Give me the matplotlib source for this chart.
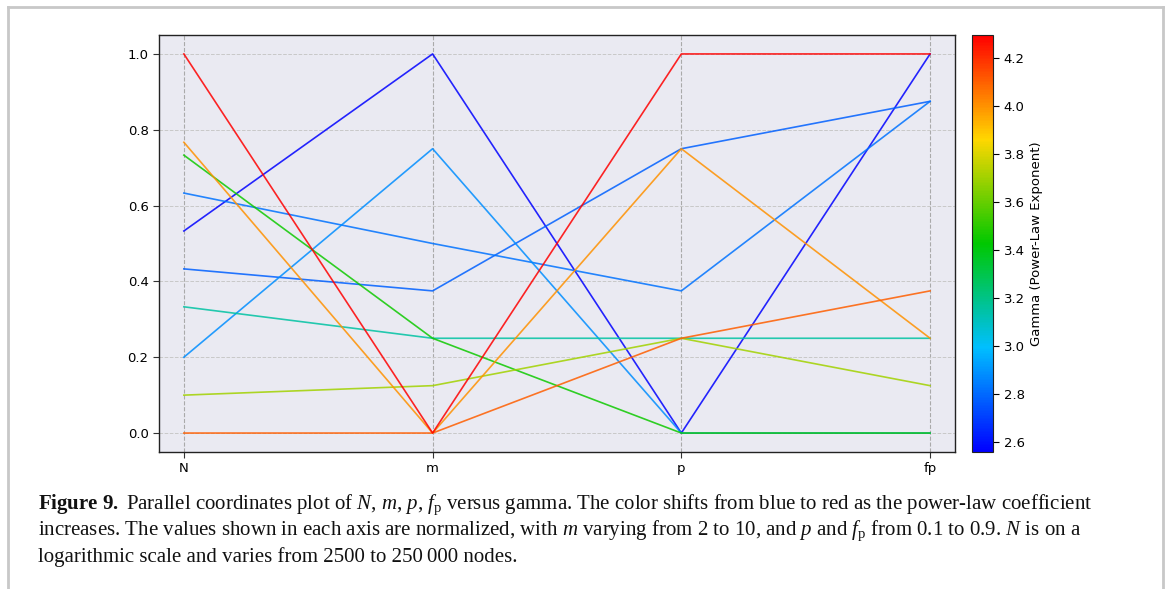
import numpy as np
import matplotlib
matplotlib.use('Agg')
import matplotlib.pyplot as plt
from matplotlib.colors import LinearSegmentedColormap, Normalize
from matplotlib.lines import Line2D

# normalised values of each network on the four axes
axis_names = ['N', 'm', 'p', 'fp']
N_norm = [0.533, 0.433, 0.633, 0.2, 0.333, 0.733, 0.1, 0.767, 0.0, 1.0]
m_norm = [1.0, 0.375, 0.5, 0.75, 0.25, 0.25, 0.125, 0.0, 0.0, 0.0]
p_norm = [0.0, 0.75, 0.375, 0.0, 0.25, 0.0, 0.25, 0.75, 0.25, 1.0]
fp_norm = [1.0, 0.875, 0.875, 0.0, 0.25, 0.0, 0.125, 0.25, 0.375, 1.0]
gamma = [2.558, 2.78, 2.82, 2.88, 3.15, 3.45, 3.70, 4.0, 4.10, 4.296]
cbar_ticks = [2.6, 2.8, 3.0, 3.2, 3.4, 3.6, 3.8, 4.0, 4.2]

cmap = LinearSegmentedColormap.from_list('gamma', ['blue', 'deepskyblue', '#00c800', 'gold', 'red'])
norm = Normalize(vmin=min(gamma), vmax=max(gamma))

fig = plt.figure(figsize=(11.7, 5.89), dpi=100)
ax = fig.add_axes([0.1359, 0.2326, 0.6803, 0.708])
cax = fig.add_axes([0.8308, 0.2326, 0.018, 0.708])

ax.set_facecolor('#eaeaf2')
x = np.arange(len(axis_names))
for i in range(len(gamma)):
    vals = [N_norm[i], m_norm[i], p_norm[i], fp_norm[i]]
    ax.plot(x, vals, color=cmap(norm(gamma[i])), lw=1.2, alpha=0.85)

for xi in x:
    ax.axvline(xi, color='#aaaaaa', ls='--', lw=0.8, zorder=0)
ax.grid(axis='y', color='#c8c8c8', ls='--', lw=0.7)
ax.set_axisbelow(True)

ax.set_xlim(-0.1, 3.1)
ax.set_ylim(-0.05, 1.05)
ax.set_xticks(x)
ax.set_xticklabels(axis_names)
ax.set_yticks([0.0, 0.2, 0.4, 0.6, 0.8, 1.0])
ax.tick_params(labelsize=9.5, length=4, color='#333333')
for s in ax.spines.values():
    s.set_color('#222222')
    s.set_linewidth(1.0)

sm = plt.cm.ScalarMappable(cmap=cmap, norm=norm)
cb = fig.colorbar(sm, cax=cax)
cb.set_ticks(cbar_ticks)
cb.ax.tick_params(labelsize=9.5, length=4)
cb.set_label('Gamma (Power-Law Exponent)', fontsize=9.5)
cb.outline.set_edgecolor('#222222')

# caption
plt.rcParams['mathtext.fontset'] = 'custom'
plt.rcParams['mathtext.rm'] = 'Liberation Serif'
plt.rcParams['mathtext.it'] = 'Liberation Serif:italic'
plt.rcParams['mathtext.bf'] = 'Liberation Serif:bold'
cap_lines = [
    r'$\mathbf{Figure\ 9.}$ Parallel coordinates plot of $N$, $m$, $p$, $f_\mathrm{p}$ versus gamma. The color shifts from blue to red as the power-law coefficient',
    r'increases. The values shown in each axis are normalized, with $m$ varying from 2 to 10, and $p$ and $f_\mathrm{p}$ from 0.1 to 0.9. $N$ is on a',
    'logarithmic scale and varies from 2500 to 250\u2009000 nodes.',
]
cap_y = [505, 531, 557]
for t, yy in zip(cap_lines, cap_y):
    fig.text(38 / 1170, 1 - yy / 589, t, fontsize=15, va='center', ha='left',
             family=['Liberation Serif', 'DejaVu Serif'], color='#111111')

# page frame
fc = '#c8c8c8'
fig.add_artist(Line2D([7.5 / 1170, 7.5 / 1170], [0, 1 - 6.5 / 589], color=fc, lw=2, transform=fig.transFigure))
fig.add_artist(Line2D([7.5 / 1170, 1163 / 1170], [1 - 6.5 / 589, 1 - 6.5 / 589], color=fc, lw=2, transform=fig.transFigure))
fig.add_artist(Line2D([1163 / 1170, 1163 / 1170], [0, 1 - 6.5 / 589], color=fc, lw=2, transform=fig.transFigure))

fig.savefig('out.png', dpi=100)
